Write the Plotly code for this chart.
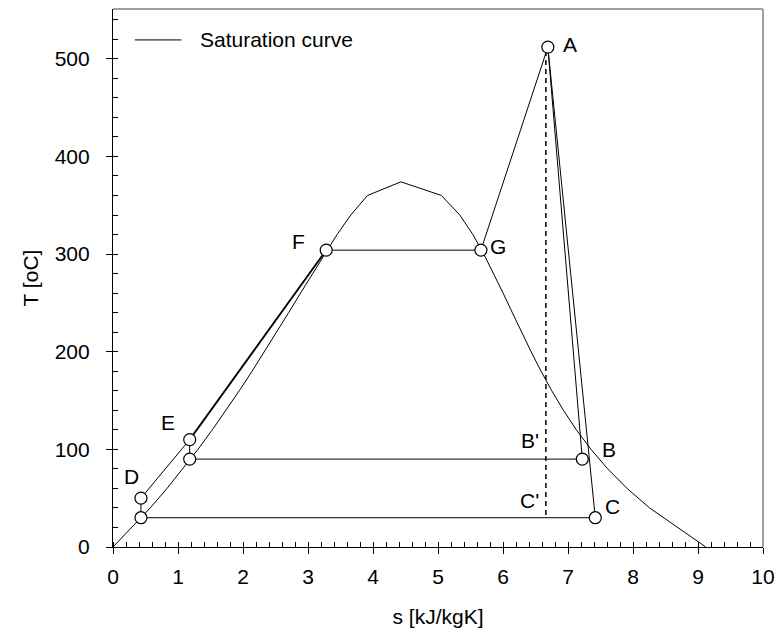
import plotly.graph_objects as go

# Saturation curve (steam tables): temperature [°C], liquid entropy, vapour entropy [kJ/kgK]
sat_T = [0.01, 40, 60, 80, 100, 120, 140, 160, 180, 200, 220, 240, 260, 280, 300, 320, 340, 360, 374]
sat_sf = [0.0, 0.5724, 0.8313, 1.0756, 1.3072, 1.5279, 1.7392, 1.9426, 2.1392, 2.3305, 2.5177,
          2.7020, 2.8849, 3.0681, 3.2540, 3.4476, 3.6587, 3.9153, 4.43]
sat_sg = [9.12, 8.2555, 7.9081, 7.6111, 7.3541, 7.1291, 6.9299, 6.7502, 6.5857, 6.4323, 6.2861,
          6.1437, 6.0019, 5.8571, 5.7049, 5.5372, 5.3357, 5.0526, 4.43]

# Cycle state points
pt_names = ["D0", "D", "E0", "E", "F", "G", "A", "B", "C"]
pt_s = [0.43, 0.43, 1.18, 1.18, 3.28, 5.66, 6.69, 7.22, 7.42]
pt_T = [30, 50, 90, 110, 304, 304, 512, 90, 30]

# Cycle segments (pairs of point names)
segments = [("D0", "D"), ("D", "E"), ("E0", "E"), ("F", "G"), ("G", "A"),
            ("A", "B"), ("A", "C"), ("B", "E0"), ("C", "D0")]
thick_segment = ("E", "F")

# Isentropic reference (dashed)
dash_s = [6.66, 6.66]
dash_T = [508, 30]

# Labels
lab_text = ["A", "G", "F", "E", "D", "B'", "B", "C'", "C"]
lab_s = [7.03, 5.93, 2.86, 0.85, 0.28, 6.41, 7.63, 6.41, 7.69]
lab_T = [515, 308, 313, 128, 72.5, 109, 100, 48, 41]

legend_label = "Saturation curve"

FONT = "Liberation Sans, Arial, sans-serif"
FS = 21
idx = {n: i for i, n in enumerate(pt_names)}

fig = go.Figure()

sat_x = sat_sf + sat_sg[::-1][1:]
sat_y = sat_T + sat_T[::-1][1:]
fig.add_trace(go.Scatter(x=sat_x, y=sat_y, mode="lines", name=legend_label,
                         line=dict(color="black", width=1), showlegend=False))

for a, b in segments:
    fig.add_trace(go.Scatter(x=[pt_s[idx[a]], pt_s[idx[b]]], y=[pt_T[idx[a]], pt_T[idx[b]]],
                             mode="lines", line=dict(color="black", width=1), showlegend=False,
                             hoverinfo="skip"))
a, b = thick_segment
fig.add_trace(go.Scatter(x=[pt_s[idx[a]], pt_s[idx[b]]], y=[pt_T[idx[a]], pt_T[idx[b]]],
                         mode="lines", line=dict(color="black", width=1.8), showlegend=False,
                         hoverinfo="skip"))

fig.add_trace(go.Scatter(x=dash_s, y=dash_T, mode="lines",
                         line=dict(color="black", width=1.5, dash="5px,4px"),
                         showlegend=False, hoverinfo="skip"))

fig.add_trace(go.Scatter(x=pt_s, y=pt_T, mode="markers", showlegend=False,
                         marker=dict(symbol="circle", size=12, color="white",
                                     line=dict(color="black", width=1.2))))

for t, s, T in zip(lab_text, lab_s, lab_T):
    fig.add_annotation(x=s, y=T, text=t, showarrow=False,
                       font=dict(family=FONT, size=FS, color="black"))

# legend (drawn in paper coordinates)
fig.add_shape(type="line", xref="paper", yref="paper", x0=0.0336, x1=0.1053, y0=0.9425, y1=0.9425,
              line=dict(color="black", width=1))
fig.add_annotation(xref="paper", yref="paper", x=0.1313, y=0.9425, xanchor="left", yanchor="middle",
                   text=legend_label, showarrow=False, font=dict(family=FONT, size=FS, color="black"))

# gray frame on top/right
fig.add_shape(type="line", xref="paper", yref="paper", x0=0, x1=1, y0=1, y1=1,
              line=dict(color="#a0a0a0", width=2))
fig.add_shape(type="line", xref="paper", yref="paper", x0=1, x1=1, y0=0, y1=1,
              line=dict(color="#a0a0a0", width=2))

fig.update_layout(
    width=784, height=634,
    margin=dict(l=113, r=16, t=9, b=87),
    paper_bgcolor="white", plot_bgcolor="white",
    font=dict(family=FONT, size=FS, color="black"),
    showlegend=False,
    xaxis=dict(range=[0, 10], dtick=1, tick0=0, showgrid=False, zeroline=False,
               showline=True, linecolor="black", linewidth=1.2,
               ticks="outside", ticklen=6, tickcolor="black",
               ticklabelstandoff=5,
               minor=dict(dtick=0.2, ticks="inside", ticklen=5, tickcolor="black", showgrid=False),
               title=dict(text="s [kJ/kgK]", standoff=22, font=dict(size=FS))),
    yaxis=dict(range=[0, 551], dtick=100, tick0=0, showgrid=False, zeroline=False,
               showline=True, linecolor="black", linewidth=1.2,
               ticks="outside", ticklen=6, tickcolor="black",
               ticklabelstandoff=12,
               minor=dict(dtick=20, ticks="inside", ticklen=5, tickcolor="black", showgrid=False),
               title=dict(text="T [oC]", standoff=10, font=dict(size=FS))),
)

fig.write_html("out.html")
